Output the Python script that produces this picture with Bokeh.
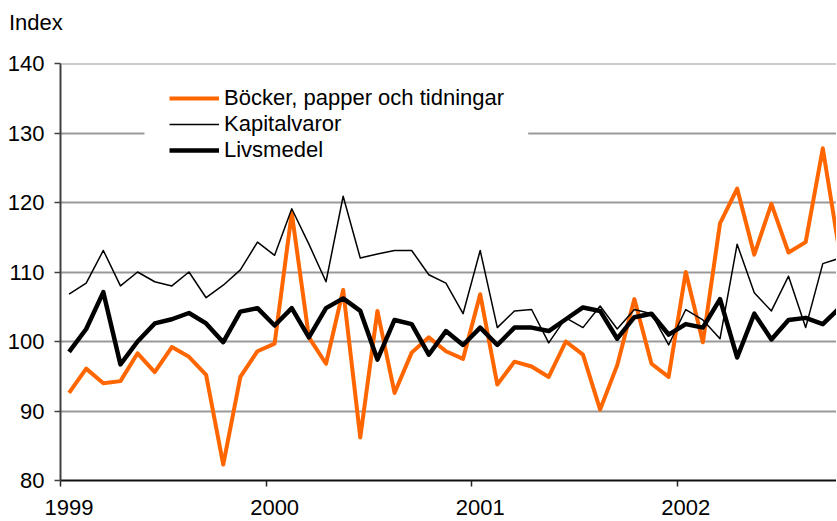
from bokeh.plotting import figure
from bokeh.layouts import column
from bokeh.models import (Range1d, FixedTicker, Legend, LegendItem, Span, BoxAnnotation, Div)
from bokeh.embed import file_html
from bokeh.resources import INLINE

# ---- data (monthly index, Jan 1999 onwards) ----
years = ["1999", "2000", "2001", "2002"]
y_ticks = [80, 90, 100, 110, 120, 130, 140]

bocker = [92.6, 96.1, 94.0, 94.3, 98.3, 95.6, 99.2, 97.8, 95.2, 82.3, 94.9, 98.6,
          99.7, 118.5, 100.6, 96.8, 107.4, 86.2, 104.4, 92.6, 98.4, 100.6, 98.6, 97.5,
          106.8, 93.8, 97.1, 96.4, 94.9, 100.0, 98.1, 90.2, 96.6, 106.1, 96.8, 94.9,
          110.0, 99.9, 117.0, 122.0, 112.5, 119.8, 112.8, 114.3, 127.8, 112.5]

kapital = [106.8, 108.4, 113.1, 108.0, 110.0, 108.6, 108.0, 110.0, 106.3, 108.1, 110.3, 114.3,
           112.4, 119.1, 114.0, 108.6, 120.9, 112.0, 112.6, 113.1, 113.1, 109.6, 108.4, 104.0,
           113.1, 102.0, 104.4, 104.6, 99.8, 103.4, 102.0, 105.1, 101.8, 104.6, 104.0, 99.5,
           104.6, 103.1, 100.4, 114.0, 107.0, 104.4, 109.4, 102.0, 111.2, 112.0]

livsmedel = [98.5, 101.8, 107.1, 96.7, 100.0, 102.6, 103.2, 104.1, 102.6, 99.9, 104.3, 104.8,
             102.3, 104.8, 100.6, 104.8, 106.2, 104.4, 97.4, 103.1, 102.5, 98.1, 101.5, 99.5,
             102.0, 99.5, 102.0, 102.0, 101.5, 103.2, 104.9, 104.4, 100.4, 103.5, 104.0, 101.0,
             102.5, 102.0, 106.1, 97.7, 104.0, 100.3, 103.1, 103.4, 102.5, 104.9]

months = [i + 0.5 for i in range(len(bocker))]  # category centres

FONT = "Liberation Sans"
FS = "22px"
ORANGE = "#FF6600"
GRID = "#999999"

# unit label above the chart
unit = Div(text="Index", width=200, height=33, margin=(7, 0, 0, 9),
           styles={"font-family": FONT, "font-size": FS, "color": "black"})

p = figure(width=836, height=479, output_backend="svg", toolbar_location=None,
           x_range=Range1d(0, 45.3), y_range=Range1d(80, 140),
           min_border_left=60, min_border_right=0, min_border_top=23, min_border_bottom=39)
p.outline_line_color = None
p.background_fill_color = "white"
p.border_fill_color = "white"

# lines
r_b = p.line(months, bocker, line_color=ORANGE, line_width=4, line_join="round")
r_k = p.line(months, kapital, line_color="black", line_width=1.5, line_join="round")
r_l = p.line(months, livsmedel, line_color="black", line_width=4.5, line_join="round")

# x axis: labels at January centre, ticks at year boundaries (minor ticks)
year_pos = [12 * k + 0.5 for k in range(len(years))]
year_bounds = [12 * k for k in range(len(years) + 1)]
xa = p.xaxis[0]
xa.ticker = FixedTicker(ticks=year_pos, minor_ticks=year_bounds)
xa.major_label_overrides = {pos: lab for pos, lab in zip(year_pos, years)}
xa.major_tick_out = 0
xa.major_tick_in = 0
xa.major_tick_line_color = None
xa.minor_tick_out = 6
xa.minor_tick_in = 0
xa.minor_tick_line_color = "#222222"
xa.minor_tick_line_width = 1.5
xa.axis_line_color = "#111111"
xa.axis_line_width = 2
xa.major_label_standoff = 13
xa.major_label_text_font = FONT
xa.major_label_text_font_size = FS
xa.major_label_text_color = "black"

ya = p.yaxis[0]
ya.ticker = FixedTicker(ticks=y_ticks)
ya.minor_tick_line_color = None
ya.major_tick_out = 6
ya.major_tick_in = 0
ya.major_tick_line_color = "#404040"
ya.major_tick_line_width = 1.5
ya.axis_line_color = "#404040"
ya.axis_line_width = 2
ya.major_label_standoff = 10
ya.major_label_text_font = FONT
ya.major_label_text_font_size = FS
ya.major_label_text_color = "black"

p.xgrid.grid_line_color = None
p.ygrid.grid_line_color = GRID
p.ygrid.grid_line_width = 2

# white area behind legend interrupting the 130 gridline
p.add_layout(BoxAnnotation(left=4.9, right=27.3, bottom=128.5, top=131.5,
                           fill_color="white", fill_alpha=1.0, line_color=None))

# legend
legend = Legend(items=[LegendItem(label="Böcker, papper och tidningar", renderers=[r_b]),
                       LegendItem(label="Kapitalvaror", renderers=[r_k]),
                       LegendItem(label="Livsmedel", renderers=[r_l])],
                location=(109, 317.4), padding=27, spacing=0,
                glyph_width=50, glyph_height=24, label_height=24, label_standoff=5,
                label_text_font=FONT, label_text_font_size=FS, label_text_color="black",
                background_fill_color="white", background_fill_alpha=1.0,
                border_line_color=None)
p.add_layout(legend)

# top gridline drawn above the legend box
p.add_layout(Span(location=140, dimension="width", line_color=GRID, line_width=2,
                  level="overlay"))

layout = column(unit, p, spacing=0)
open("out.html", "w").write(file_html(layout, INLINE))
